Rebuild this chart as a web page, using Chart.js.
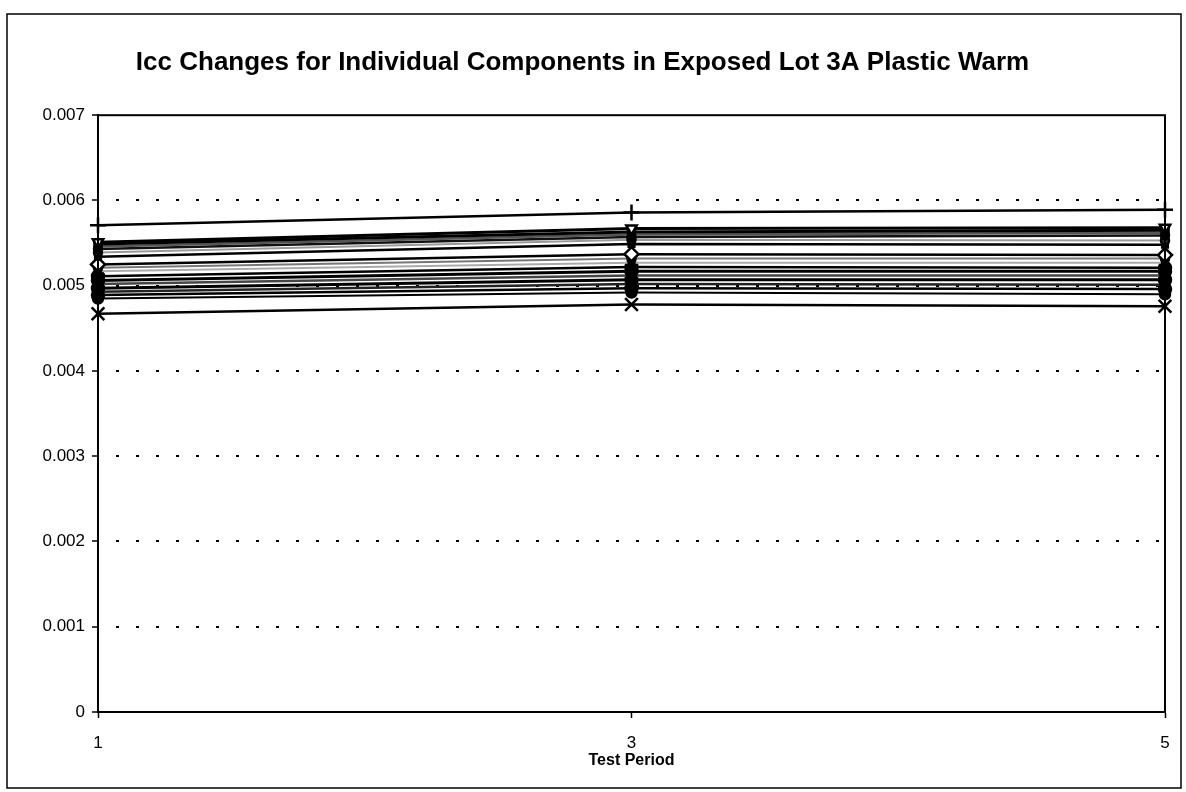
<!DOCTYPE html>
<html>
<head>
<meta charset="utf-8">
<script src="https://cdn.jsdelivr.net/npm/chart.js@4/dist/chart.umd.min.js"></script>
<style>
  html, body { margin: 0; padding: 0; background: #fff; }
  #wrap { width: 1186px; height: 792px; }
</style>
</head>
<body>
<div id="wrap"><canvas id="icc" width="1186" height="792"></canvas></div>
<script>
const periods = ["1", "3", "5"];
const yTicks = [0, 0.001, 0.002, 0.003, 0.004, 0.005, 0.006, 0.007];

// Icc per component at test periods 1, 3, 5
const comp01 = [0.00571, 0.00586, 0.00589];
const comp02 = [0.00551, 0.00567, 0.00568];
const comp03 = [0.00549, 0.00563, 0.00565];
const comp04 = [0.00546, 0.00560, 0.00562];
const comp05 = [0.00543, 0.00557, 0.00559];
const comp06 = [0.00539, 0.00554, 0.00553];
const comp07 = [0.00534, 0.00549, 0.00548];
const comp08 = [0.00525, 0.00537, 0.00536];
const comp09 = [0.00521, 0.00532, 0.00532];
const comp10 = [0.00517, 0.00527, 0.00527];
const comp11 = [0.00511, 0.00522, 0.00521];
const comp12 = [0.00506, 0.00517, 0.00517];
const comp13 = [0.00502, 0.00512, 0.00512];
const comp14 = [0.00497, 0.00507, 0.00507];
const comp15 = [0.00493, 0.00502, 0.00501];
const comp16 = [0.00489, 0.00497, 0.00496];
const comp17 = [0.00485, 0.00492, 0.00490];
const comp18 = [0.00467, 0.00478, 0.00476];

const series = [comp01, comp02, comp03, comp04, comp05, comp06, comp07, comp08, comp09,
  comp10, comp11, comp12, comp13, comp14, comp15, comp16, comp17, comp18];

// grayscale look of the printed original
const looks = [
  { c: "#000", ps: "cross", r: 8, fill: "#000", w: 2.5 },
  { c: "#000", ps: "triangle", rot: 180, r: 6, fill: "#fff", w: 3 },
  { c: "#000", ps: "rect", r: 5, fill: "#000", w: 3 },
  { c: "#555", ps: "rect", r: 4, fill: "#000", w: 2.5 },
  { c: "#111", ps: "circle", r: 4, fill: "#000", w: 2.5 },
  { c: "#999", ps: "circle", r: 4, fill: "#333", w: 2 },
  { c: "#000", ps: "rect", r: 4, fill: "#000", w: 2.5 },
  { c: "#000", ps: "rectRot", r: 7, fill: "#fff", w: 2.5 },
  { c: "#777", ps: "circle", r: 4, fill: "#000", w: 2 },
  { c: "#aaa", ps: "rect", r: 4, fill: "#000", w: 2 },
  { c: "#000", ps: "circle", r: 6, fill: "#000", w: 2.5 },
  { c: "#000", ps: "circle", r: 6, fill: "#000", w: 3 },
  { c: "#444", ps: "rect", r: 6, fill: "#000", w: 2.5 },
  { c: "#000", ps: "circle", r: 6, fill: "#000", w: 3 },
  { c: "#222", ps: "rect", r: 6, fill: "#000", w: 2.5 },
  { c: "#000", ps: "circle", r: 6, fill: "#000", w: 2.5 },
  { c: "#000", ps: "circle", r: 5, fill: "#000", w: 2 },
  { c: "#000", ps: "crossRot", r: 9, fill: "#000", w: 2.5 }
];

const frame = {
  id: "frame",
  beforeDraw(chart) {
    const { ctx } = chart;
    ctx.save();
    ctx.fillStyle = "#fff";
    ctx.fillRect(0, 0, chart.width, chart.height);
    ctx.strokeStyle = "#000"; ctx.lineWidth = 1.5;
    ctx.strokeRect(7, 14, 1174, 774);
    ctx.restore();
  },
  afterDatasetsDraw(chart) {
    const a = chart.chartArea, { ctx } = chart;
    ctx.save();
    ctx.strokeStyle = "#000"; ctx.lineWidth = 2;
    ctx.strokeRect(a.left, a.top, a.right - a.left, a.bottom - a.top);
    ctx.restore();
  }
};

const FONT = "'Liberation Sans', Arial, sans-serif";

new Chart(document.getElementById("icc"), {
  type: "line",
  data: {
    labels: periods,
    datasets: series.map((d, i) => {
      const L = looks[i];
      return {
        label: "Component " + (i + 1),
        data: d,
        borderColor: L.c,
        borderWidth: L.w,
        pointStyle: L.ps,
        pointRotation: L.rot || 0,
        pointRadius: L.r,
        pointBackgroundColor: L.fill,
        pointBorderColor: "#000",
        pointBorderWidth: 2.5,
        tension: 0,
        clip: false
      };
    })
  },
  options: {
    responsive: false,
    animation: false,
    events: [],
    layout: { padding: { left: 0, right: 21, top: 0, bottom: 0 } },
    plugins: {
      legend: { display: false },
      tooltip: { enabled: false },
      title: {
        display: true,
        text: "Icc Changes for Individual Components in Exposed Lot 3A Plastic Warm",
        color: "#000",
        font: { family: FONT, size: 26, weight: "bold" },
        padding: { top: 47, bottom: 37 }
      }
    },
    scales: {
      x: {
        type: "category",
        offset: false,
        grid: { drawOnChartArea: false, tickLength: 6, tickColor: "#000", tickWidth: 1.5 },
        border: { display: true, color: "#000", width: 2 },
        ticks: { color: "#000", padding: 15, maxRotation: 0, font: { family: FONT, size: 17 } },
        title: {
          display: true, text: "Test Period", color: "#000",
          font: { family: FONT, size: 16, weight: "bold" },
          padding: { top: 0, bottom: 22 }
        },
        afterFit(scale) { scale.height = 80; }
      },
      y: {
        min: 0, max: 0.007,
        afterBuildTicks(scale) { scale.ticks = yTicks.map(v => ({ value: v })); },
        grid: {
          color: (c) => (c.tick && (c.tick.value === 0 || c.tick.value === 0.007)) ? "rgba(0,0,0,0)" : "#000",
          lineWidth: 2,
          tickLength: 6,
          tickColor: "#000",
          tickWidth: 1.5,
          tickBorderDash: []
        },
        border: { display: true, color: "#000", width: 2, dash: [3, 17], dashOffset: 3 },
        ticks: {
          color: "#000", padding: 7,
          font: { family: FONT, size: 17 },
          callback: (v) => v === 0 ? "0" : Number(v).toFixed(3)
        },
        afterFit(scale) { scale.width = 98; }
      }
    }
  },
  plugins: [frame]
});
</script>
</body>
</html>
